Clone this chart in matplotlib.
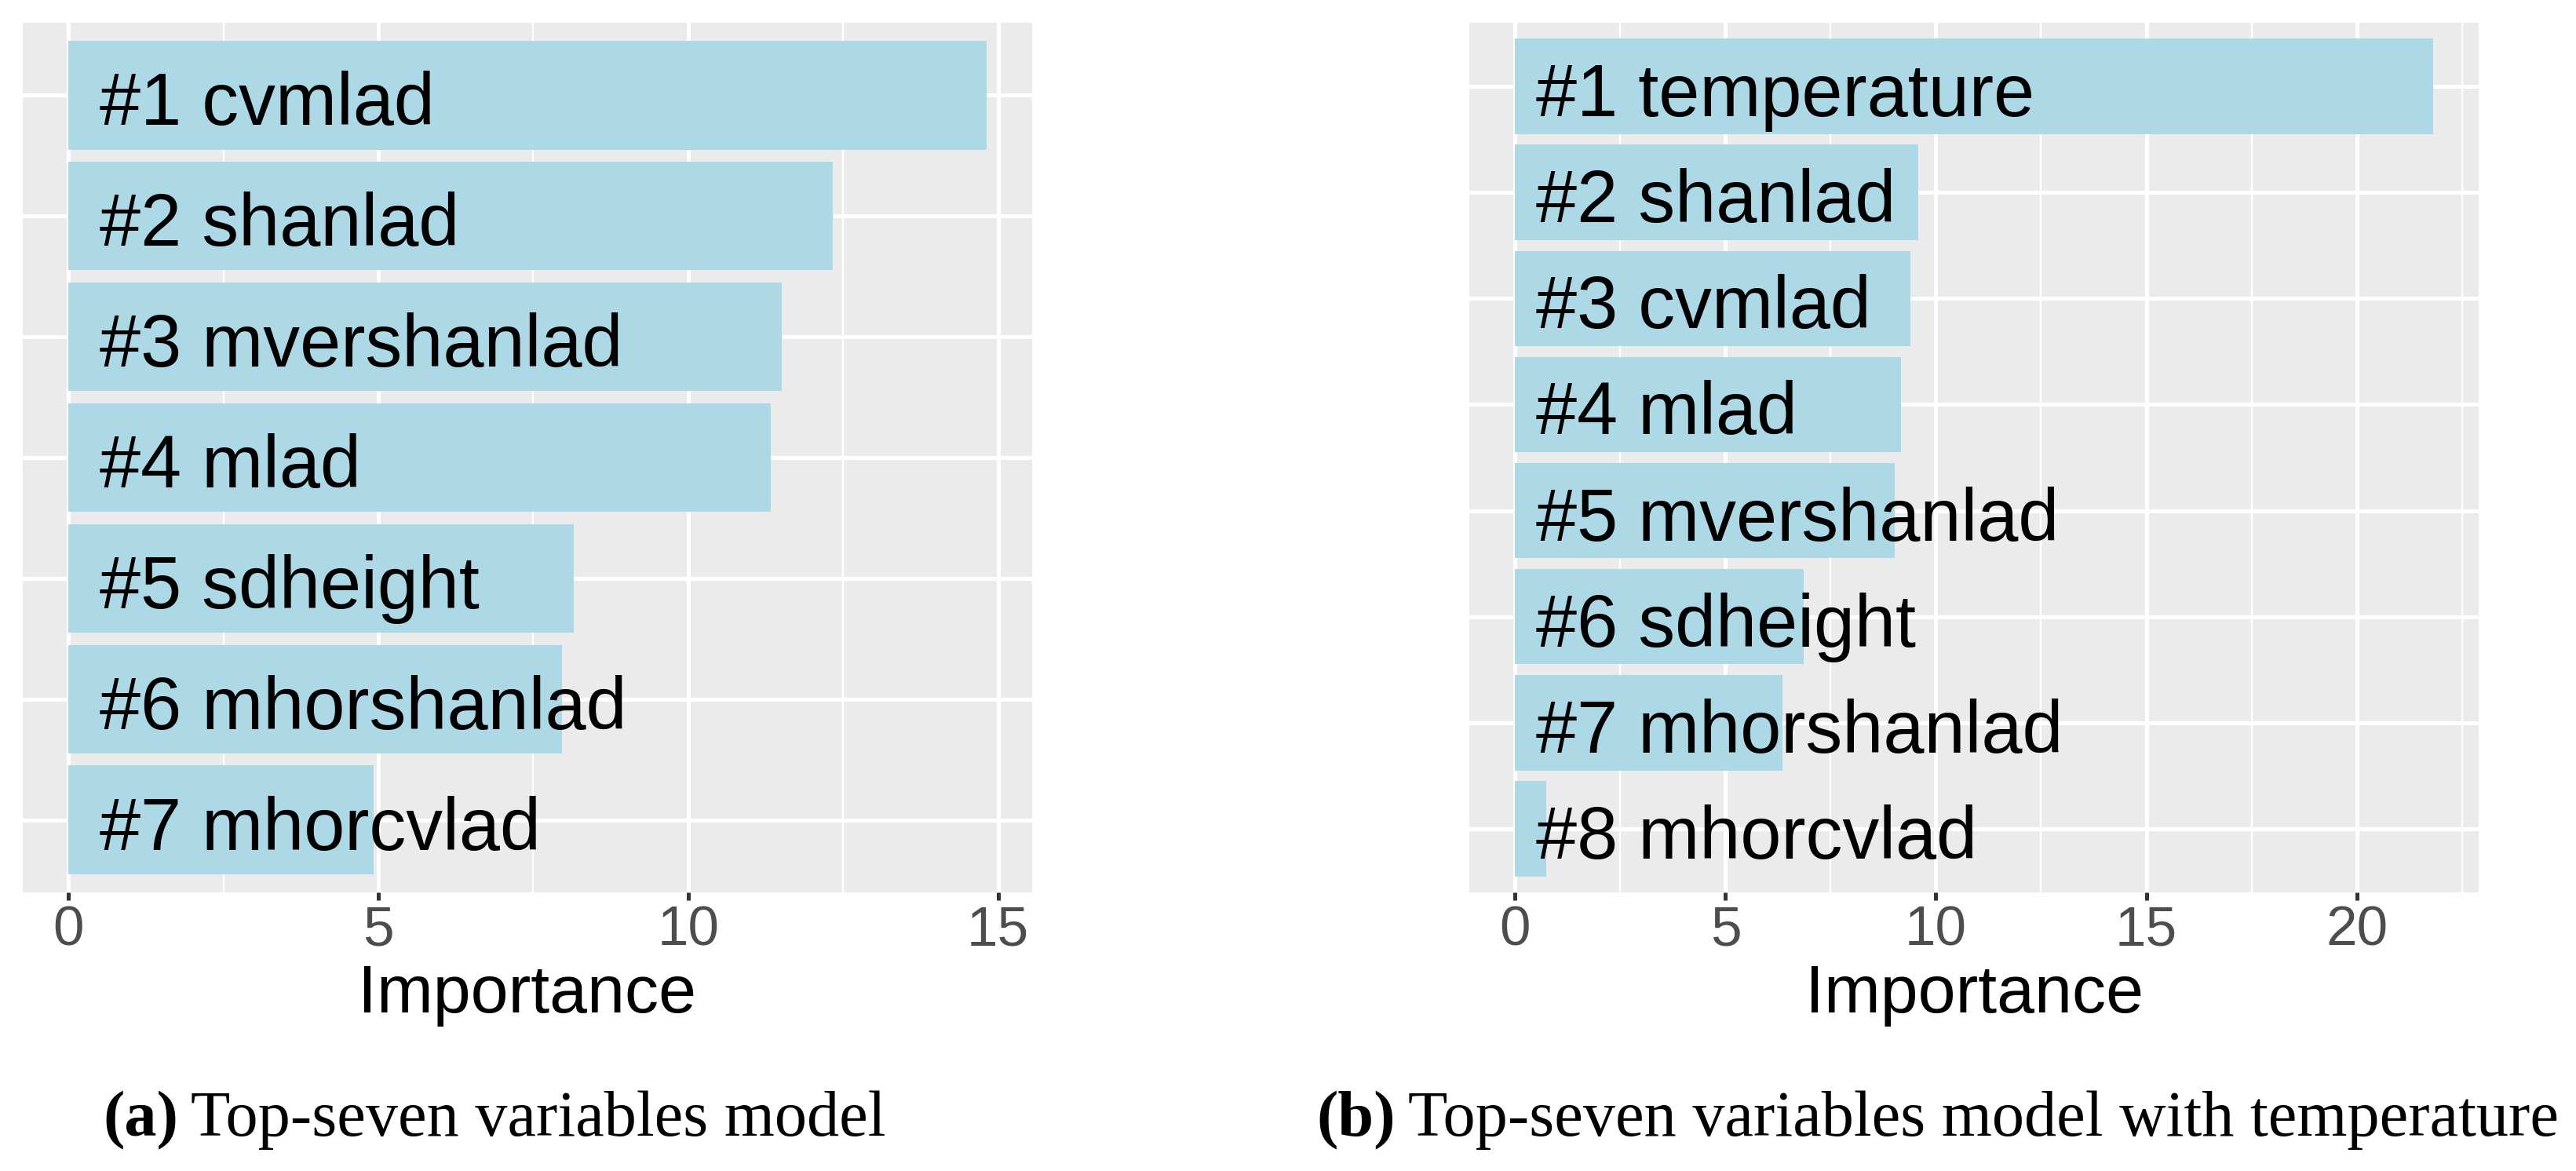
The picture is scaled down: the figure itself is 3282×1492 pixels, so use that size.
import numpy as np
import matplotlib
matplotlib.use("Agg")
import matplotlib.pyplot as plt
import matplotlib.transforms as mtransforms
from matplotlib.ticker import MultipleLocator

# values
vars_a = ["cvmlad", "shanlad", "mvershanlad", "mlad", "sdheight", "mhorshanlad", "mhorcvlad"]
imp_a = [14.81, 12.33, 11.51, 11.33, 8.15, 7.96, 4.92]

vars_b = ["temperature", "shanlad", "cvmlad", "mlad", "mvershanlad", "sdheight", "mhorshanlad", "mhorcvlad"]
imp_b = [21.81, 9.58, 9.40, 9.17, 9.02, 6.86, 6.36, 0.73]

caption_a = ("(a)", "Top-seven variables model")
caption_b = ("(b)", "Top-seven variables model with temperature")

W, H, DPI = 3282, 1492, 200
BAR = "#ADD8E6"
PANEL = "#EBEBEB"
SANS = ["Liberation Sans", "DejaVu Sans"]
SERIF = ["Liberation Serif", "DejaVu Serif"]


def importance_panel(fig, ax, names, values):
    n = len(names)
    y = np.arange(n)
    ax.set_facecolor(PANEL)
    ax.barh(y, values, height=0.9, color=BAR, zorder=2)
    # baseline sits a bit below the bar centre
    shift = ax.transData + mtransforms.ScaledTranslation(0, -38 / DPI, fig.dpi_scale_trans)
    for i, name in enumerate(names):
        ax.text(0.5, i, "#%d %s" % (i + 1, name), ha="left", va="baseline",
                fontsize=33.7, family=SANS, color="black", zorder=3, transform=shift)
    vmax = max(values)
    ax.set_xlim(-0.05 * vmax, 1.05 * vmax)
    ax.set_ylim(n - 0.4, -0.6)
    ax.xaxis.set_major_locator(MultipleLocator(5))
    ax.xaxis.set_minor_locator(MultipleLocator(2.5))
    ax.set_yticks(y)
    ax.set_axisbelow(True)
    ax.grid(which="major", color="white", linewidth=1.8, zorder=0)
    ax.grid(which="minor", axis="x", color="white", linewidth=0.85, zorder=0)
    ax.tick_params(axis="y", length=0, labelleft=False)
    ax.tick_params(axis="x", which="major", color="#333333", length=3.6, width=1.8,
                   labelcolor="#4D4D4D", labelsize=25.6, pad=2.5)
    ax.tick_params(axis="x", which="minor", length=0)
    for lab in ax.get_xticklabels():
        lab.set_family(SANS)
    for s in ax.spines.values():
        s.set_visible(False)
    ax.set_xlabel("Importance", fontsize=31, family=SANS, labelpad=3)


fig = plt.figure(figsize=(W / DPI, H / DPI), dpi=DPI)
ax_a = fig.add_axes([29 / W, 1 - 1137 / H, (1315 - 29) / W, (1137 - 29) / H])
ax_b = fig.add_axes([1872 / W, 1 - 1137 / H, (3158 - 1872) / W, (1137 - 29) / H])
importance_panel(fig, ax_a, vars_a, imp_a)
importance_panel(fig, ax_b, vars_b, imp_b)

# sub-captions: bold tag followed by plain text
renderer = fig.canvas.get_renderer()
for (tag, txt), x0 in [(caption_a, 131), (caption_b, 1677)]:
    t = fig.text(x0 / W, 1 - 1447 / H, tag, fontsize=29.6, family=SERIF, weight="bold",
                 ha="left", va="baseline")
    bb = t.get_window_extent(renderer)
    fig.text((bb.x1 + 16) / W, 1 - 1447 / H, txt, fontsize=29.6, family=SERIF,
             ha="left", va="baseline")

fig.savefig("out.png", dpi=DPI)
